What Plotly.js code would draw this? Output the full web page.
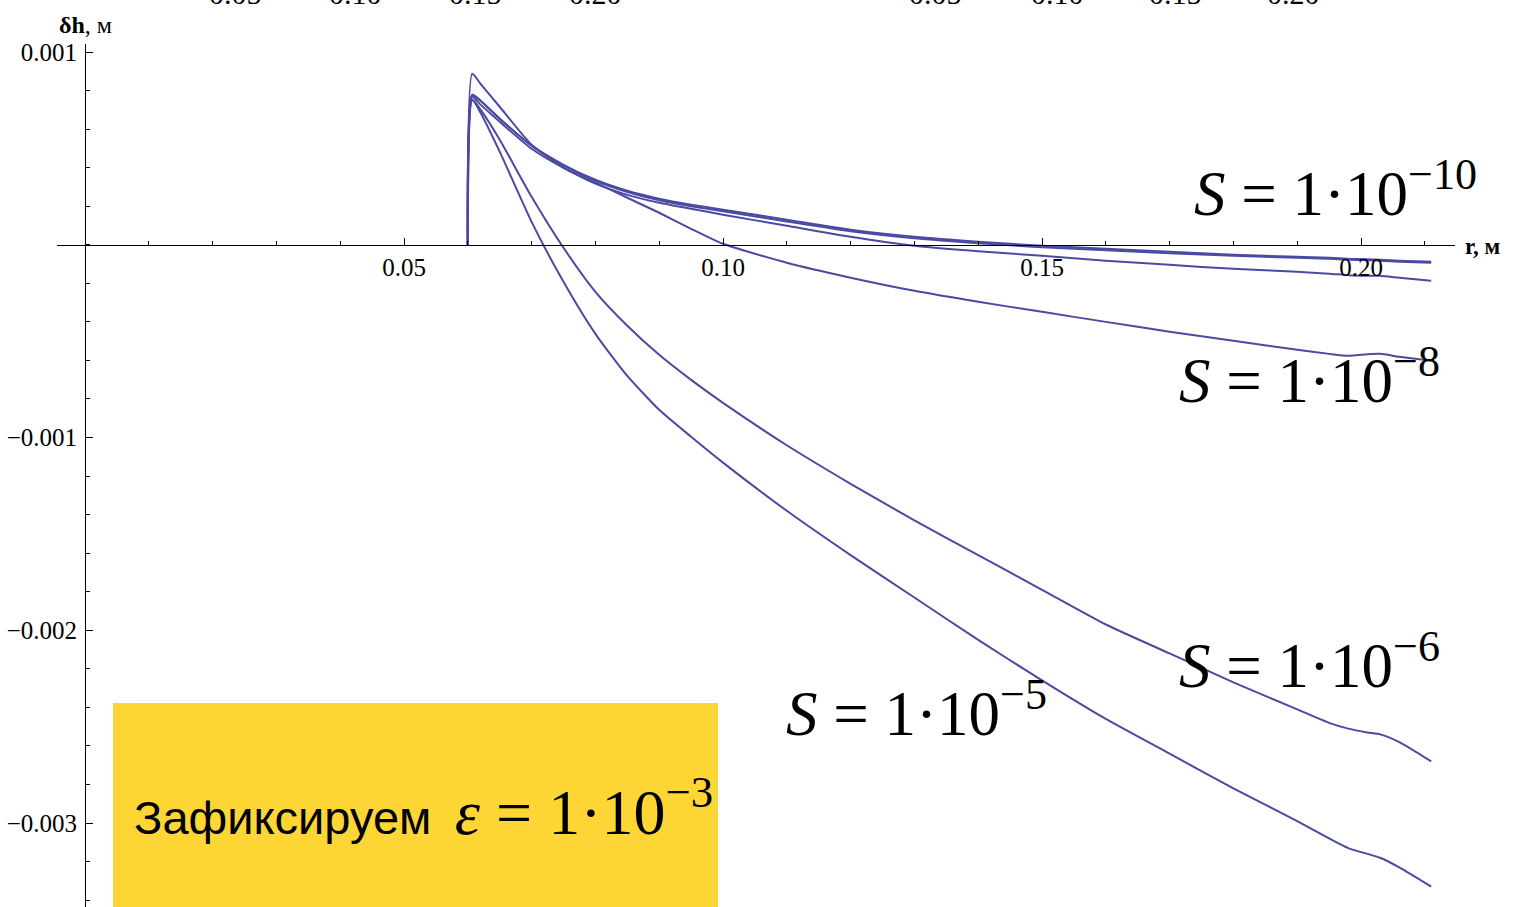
<!DOCTYPE html>
<html>
<head>
<meta charset="utf-8">
<script src="https://cdn.plot.ly/plotly-3.0.1.min.js"></script>
<style>
  html, body { margin: 0; padding: 0; background: #ffffff; }
  #chart { width: 1517px; height: 907px; }
</style>
</head>
<body>
<div id="chart"></div>
<script>
// radius, m
const r = [0.060, 0.0607, 0.062, 0.065, 0.070, 0.075, 0.080, 0.085, 0.090, 0.095,
           0.100, 0.110, 0.120, 0.130, 0.140, 0.150, 0.160, 0.170, 0.180, 0.190,
           0.195, 0.198, 0.201, 0.203, 0.206, 0.211];

// surface deviation δh, m, for each S
const dh_S1e10 = [0, 0.000778, 0.000747, 0.000654, 0.000514, 0.000415, 0.000337, 0.000280, 0.000239, 0.000208,
                  0.000182, 0.000130, 0.0000778, 0.0000415, 0.0000156, -0.0000052, -0.0000208, -0.0000363, -0.0000519, -0.0000623,
                  -0.0000675, -0.0000727, -0.0000752, -0.0000778, -0.0000830, -0.0000882];
const dh_S1e9  = [0, 0.000778, 0.000747, 0.000654, 0.000514, 0.000412, 0.000332, 0.000274, 0.000231, 0.000200,
                  0.000174, 0.000121, 0.0000700, 0.0000337, 0.0000078, -0.0000130, -0.0000286, -0.0000441, -0.0000571, -0.0000675,
                  -0.0000727, -0.0000778, -0.0000804, -0.0000830, -0.0000882, -0.0000934];
const dh_S1e7  = [0, 0.000887, 0.000835, 0.000716, 0.000519, 0.000400, 0.000317, 0.000259, 0.000218, 0.000187,
                  0.000156, 0.0000986, 0.0000415, -0.0000052, -0.0000337, -0.0000571, -0.0000830, -0.000104, -0.000125, -0.000140,
                  -0.000150, -0.000158, -0.000161, -0.000161, -0.000171, -0.000187];
const dh_S1e8  = [0, 0.000768, 0.000727, 0.000638, 0.000498, 0.000399, 0.000322, 0.000244, 0.000166, 0.000083,
                  0.0000052, -0.0000934, -0.000171, -0.000239, -0.000296, -0.000348, -0.000400, -0.000451, -0.000498, -0.000545,
                  -0.000566, -0.000576, -0.000568, -0.000566, -0.000581, -0.000602];
const dh_S1e6  = [0, 0.000752, 0.000701, 0.000545, 0.000249, -0.0000156, -0.000244, -0.000420, -0.000571, -0.000701,
                  -0.000820, -0.00104, -0.00124, -0.00143, -0.00161, -0.00179, -0.00197, -0.00212, -0.00227, -0.00241,
                  -0.00248, -0.00251, -0.00253, -0.00254, -0.00258, -0.00268];
const dh_S1e5  = [0, 0.000752, 0.000685, 0.000483, 0.000119, -0.000192, -0.000462, -0.000680, -0.000856, -0.000996,
                  -0.00113, -0.00138, -0.00161, -0.00183, -0.00205, -0.00226, -0.00246, -0.00264, -0.00282, -0.00299,
                  -0.00308, -0.00313, -0.00316, -0.00318, -0.00323, -0.00333];

const seriesNames = ['S = 1e-10', 'S = 1e-9', 'S = 1e-7', 'S = 1e-8', 'S = 1e-6', 'S = 1e-5'];
const seriesValues = [dh_S1e10, dh_S1e9, dh_S1e7, dh_S1e8, dh_S1e6, dh_S1e5];

// axis ticks
const xTickVals = [0.05, 0.10, 0.15, 0.20];
const xTickText = ['0.05', '0.10', '0.15', '0.20'];
const yTickVals = [0.001, -0.001, -0.002, -0.003];
const yTickText = ['0.001', '\u22120.001', '\u22120.002', '\u22120.003'];

// curve labels
const labelTexts = [
  '<i>S</i> = 1\u00b710<sup>\u221210</sup>',
  '<i>S</i> = 1\u00b710<sup>\u22128</sup>',
  '<i>S</i> = 1\u00b710<sup>\u22126</sup>',
  '<i>S</i> = 1\u00b710<sup>\u22125</sup>'
];
const boxText = 'Зафиксируем\u2002<span style="font-family:\'Liberation Serif\';font-size:64px"><i>ε</i> = 1\u00b710<sup>\u22123</sup></span>';

// tick labels of the neighbouring panels above
const topStripText = ['0.05', '0.10', '0.15', '0.20', '0.05', '0.10', '0.15', '0.20'];

const lineColor = '#4a4aa2';
const serif = 'Liberation Serif';

const traces = seriesValues.map((vals, i) => ({
  type: 'scatter',
  mode: 'lines',
  name: seriesNames[i],
  x: r,
  y: vals,
  line: { color: lineColor, width: 2, shape: 'spline', smoothing: 0.6 },
  hoverinfo: 'x+y+name'
}));

// plot geometry: x = 0 sits 28 px right of the plot's left edge
const xRange = [-0.0043887, 0.214734];
const yRange = [-0.0034354, 0.0010415];
const yAxisPos = (0 - xRange[0]) / (xRange[1] - xRange[0]);
const xAxisPos = (0 - yRange[0]) / (yRange[1] - yRange[0]);

const labelPos = [
  { x: 0.1735, y: 0.000285 },
  { x: 0.1712, y: -0.000685 },
  { x: 0.1712, y: -0.00216 },
  { x: 0.1095, y: -0.00241 }
];

const annotations = labelTexts.map((t, i) => ({
  text: t, x: labelPos[i].x, y: labelPos[i].y, xref: 'x', yref: 'y',
  xanchor: 'left', yanchor: 'middle', showarrow: false,
  font: { family: serif, size: 63, color: '#000' }
}));

annotations.push({
  text: boxText, x: 0.0073, y: -0.00292, xref: 'x', yref: 'y',
  xanchor: 'left', yanchor: 'middle', showarrow: false,
  font: { family: 'Liberation Sans', size: 47, color: '#000' }
});

// axis names, placed in paper coordinates outside the data range
annotations.push({
  text: '<b>δh</b>, м', x: (114 - 57) / 1398, y: 1 + (44 - 25) / 863, xref: 'paper', yref: 'paper',
  xanchor: 'right', yanchor: 'middle', showarrow: false,
  font: { family: serif, size: 24, color: '#000' }
});
annotations.push({
  text: '<b>r, м</b>', x: (1463 - 57) / 1398, y: (907 - 246) / 863, xref: 'paper', yref: 'paper',
  xanchor: 'left', yanchor: 'middle', showarrow: false,
  font: { family: serif, size: 23, color: '#000' }
});

const topStripX = [235, 355, 475, 595, 935, 1057, 1175, 1293];
topStripText.forEach((t, i) => {
  annotations.push({
    text: t, x: (topStripX[i] - 57) / 1398, y: 1 + (44 + 6) / 863,
    xref: 'paper', yref: 'paper', xanchor: 'center', yanchor: 'middle',
    showarrow: false, font: { family: serif, size: 30, color: '#000' }
  });
});

const layout = {
  width: 1517, height: 907,
  margin: { l: 57, r: 62, t: 44, b: 0, pad: 0 },
  paper_bgcolor: '#ffffff', plot_bgcolor: '#ffffff',
  showlegend: false,
  xaxis: {
    range: xRange, anchor: 'free', position: xAxisPos,
    showgrid: false, zeroline: false,
    showline: true, linecolor: '#000', linewidth: 1,
    tickmode: 'array', tickvals: xTickVals, ticktext: xTickText,
    ticks: 'inside', ticklen: 7, tickcolor: '#000', tickwidth: 1,
    ticklabelstandoff: 0,
    minor: { ticks: 'inside', ticklen: 4, dtick: 0.01, tick0: 0, tickcolor: '#000', showgrid: false },
    tickfont: { family: serif, size: 25, color: '#000' }
  },
  yaxis: {
    range: yRange, anchor: 'free', position: yAxisPos,
    showgrid: false, zeroline: false,
    showline: true, linecolor: '#000', linewidth: 1,
    tickmode: 'array', tickvals: yTickVals, ticktext: yTickText,
    ticks: 'inside', ticklen: 7, tickcolor: '#000', tickwidth: 1,
    ticklabelstandoff: 3,
    minor: { ticks: 'inside', ticklen: 4, dtick: 0.0002, tick0: 0, tickcolor: '#000', showgrid: false },
    tickfont: { family: serif, size: 25, color: '#000' }
  },
  shapes: [{
    type: 'rect', xref: 'x', yref: 'y', layer: 'below',
    x0: 0.00439, x1: 0.09922, y0: -0.002377, y1: -0.0036,
    fillcolor: '#fdd535', line: { width: 0 }
  }],
  annotations: annotations
};

Plotly.newPlot('chart', traces, layout, { displayModeBar: false, staticPlot: true });
</script>
</body>
</html>
